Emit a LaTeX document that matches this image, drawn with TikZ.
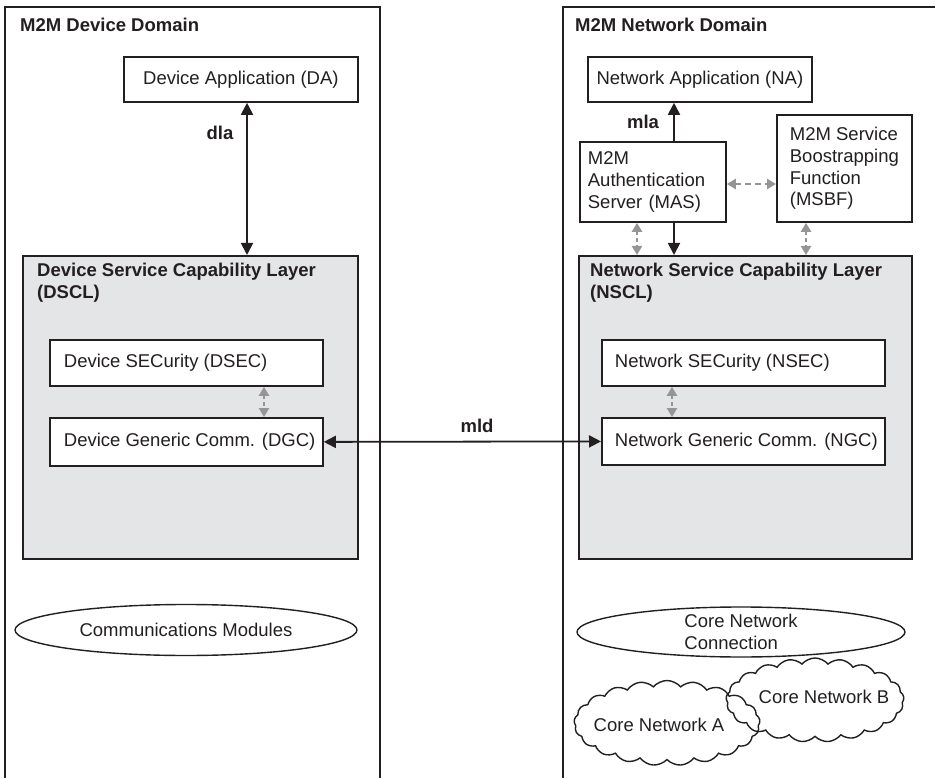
\documentclass[tikz,border=0pt]{standalone}
\usepackage{fontspec}
\setmainfont{Liberation Sans}
\usetikzlibrary{arrows.meta,shapes.geometric,shapes.symbols,calc}
\definecolor{layergray}{HTML}{E4E5E7}
\definecolor{arrgray}{HTML}{959595}
\definecolor{ink}{HTML}{231F20}
\newcommand{\lbox}[2]{\makebox[#1][l]{#2}}
\begin{document}
\begin{tikzpicture}[x=1pt,y=-1pt,
  every node/.style={font=\fontsize{18.5pt}{21.8pt}\selectfont, text=ink},
  dom/.style={draw=ink, line width=1.8pt},
  box/.style={draw=ink, line width=1.8pt, fill=white, anchor=north west, inner ysep=0pt},
  layer/.style={draw=ink, line width=1.8pt, fill=layergray, anchor=north west, inner sep=0pt},
  ttl/.style={font=\bfseries\fontsize{18.5pt}{21.5pt}\selectfont, anchor=north west, inner sep=0pt, align=left},
  lbl/.style={font=\bfseries\fontsize{18.5pt}{21.8pt}\selectfont, inner sep=0pt},
  blk/.style={draw=ink, line width=1.8pt},
  tip/.tip={Triangle[length=12pt,width=12pt]},
  gtip/.tip={Triangle[length=9pt,width=10pt]},
  gdd/.style={draw=arrgray, line width=2.2pt, dash pattern=on 4pt off 3pt, gtip-gtip},
  oval/.style={draw=ink, line width=1.4pt, ellipse, inner sep=0pt},
  cloudy/.style={draw=ink, line width=1.4pt, cloud, cloud puffs=21, cloud puff arc=100, cloud ignores aspect, inner sep=0pt}
]
\useasboundingbox (0,0) rectangle (935,778);

% domains
\draw[dom] (5,778) -- (5,7) -- (380,7) -- (380,778);
\draw[dom] (563,778) -- (563,7) -- (935,7);
\node[lbl, anchor=base west] (ddt) at (20,32) {M2M Device Domain};
\node[lbl, anchor=base west] (ndt) at (575,32) {M2M Network Domain};

% device side
\node[box, minimum width=234pt, minimum height=45pt] (da) at (123,56) {Device Application (DA)};
\node[layer, minimum width=335pt, minimum height=303pt] (dscl) at (22,255) {};
\node[ttl] (dsclt) at (37,263) {Device Service Capability Layer\\(DSCL)};
\node[box, inner xsep=14pt, minimum height=46pt] (dsec) at (49,339) {\lbox{245pt}{Device SECurity (DSEC)}};
\node[box, inner xsep=14pt, minimum height=48pt] (dgc) at (49,417) {\lbox{245pt}{Device Generic Comm. (DGC)}};
\node[oval, minimum width=342pt, minimum height=51pt] (cm) at (186,630) {Communications Modules};

% network side
\node[box, minimum width=224pt, minimum height=45pt] (na) at (587,56) {Network Application (NA)};
\node[box, text width=130pt, inner xsep=8pt, align=left, minimum height=80pt] (mas) at (579,141) {M2M\\Authentication\\Server (MAS)};
\node[box, align=left, minimum width=135pt, minimum height=107pt] (msbf) at (776,114) {M2M Service\\Boostrapping\\Function\\(MSBF)};
\node[layer, minimum width=333pt, minimum height=303pt] (nscl) at (578,255) {};
\node[ttl] (nsclt) at (590,263) {Network Service Capability Layer\\(NSCL)};
\node[box, inner xsep=13pt, minimum height=46pt] (nsec) at (601,339) {\lbox{257pt}{Network SECurity (NSEC)}};
\node[box, inner xsep=13pt, minimum height=47pt] (ngc) at (601,417) {\lbox{257pt}{Network Generic Comm. (NGC)}};
\node[oval, minimum width=328pt, minimum height=50pt] (cnc) at (741,632) {};
\node[align=left, inner sep=0pt] (cnct) at (cnc.center) {Core Network\\Connection};
\node[cloudy, minimum width=178pt, minimum height=84pt] (cnb) at (815,700) {};
\node[cloudy, minimum width=186pt, minimum height=85pt] (cna) at (667,723) {};
\node[inner sep=0pt] (cnat) at (659,725) {Core Network A};
\node[inner sep=0pt] (cnbt) at (824,697) {Core Network B};

% connector x/y helpers
\coordinate (xdla) at (247,0);
\coordinate (xd) at (264,0);
\coordinate (xn) at (672,0);
\coordinate (xmla) at (674,0);
\coordinate (xg1) at (637,0);
\coordinate (xg2) at (806,0);
\coordinate (ymm) at (0,184);

% connectors
\draw[blk, tip-tip] (xdla |- da.south) -- (xdla |- dscl.north);
\node[lbl] (dla) at (220,133) {dla};
\draw[blk, tip-tip] (dgc.east) -- (ngc.west);
\node[lbl] (mld) at (477,425.5) {mld};
\draw[blk, -tip] (xmla |- mas.north) -- (xmla |- na.south);
\node[lbl] (mla) at (643,122) {mla};
\draw[blk, -tip] (xmla |- mas.south) -- (xmla |- nscl.north);

\draw[gdd] (xd |- dsec.south) -- (xd |- dgc.north);
\draw[gdd] (xn |- nsec.south) -- (xn |- ngc.north);
\draw[gdd] (xg1 |- mas.south) -- (xg1 |- nscl.north);
\draw[gdd] (xg2 |- msbf.south) -- (xg2 |- nscl.north);
\draw[gdd, dash pattern=on 6pt off 4pt] (mas.east |- ymm) -- (msbf.west |- ymm);
\end{tikzpicture}
\end{document}
